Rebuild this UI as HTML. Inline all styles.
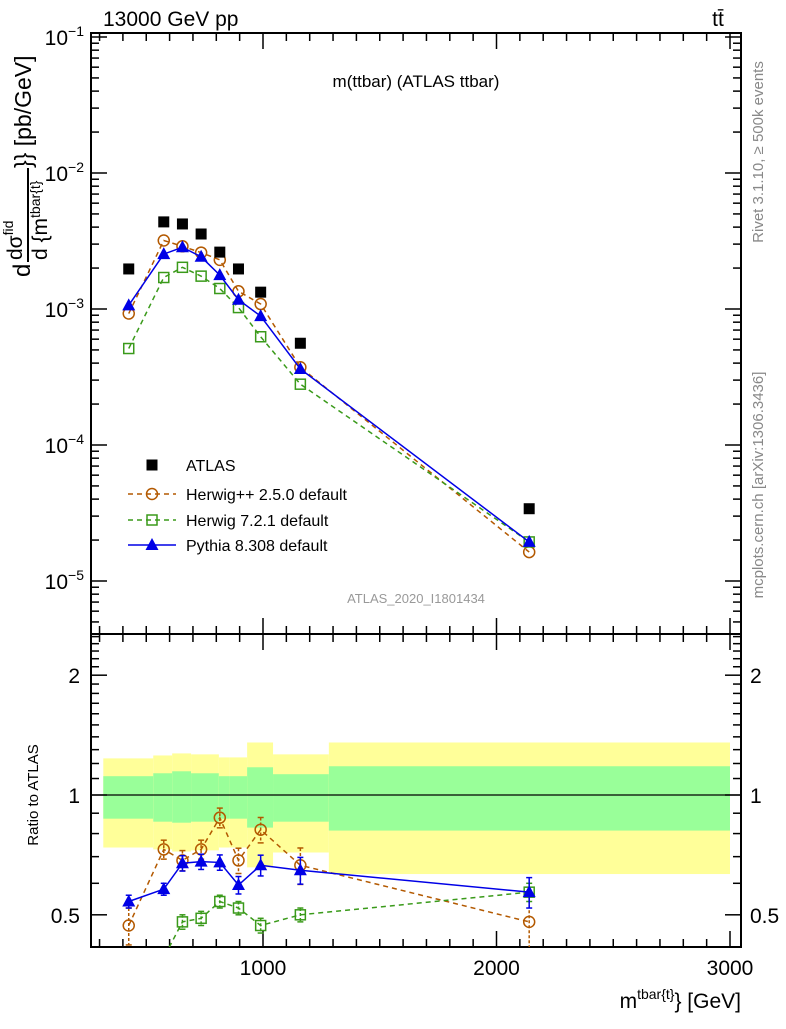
<!DOCTYPE html>
<html><head><meta charset="utf-8"><style>
body{margin:0;background:#fff;}
svg text{font-family:"Liberation Sans",sans-serif;}
</style></head><body>
<svg id="c" width="786" height="1024" xmlns="http://www.w3.org/2000/svg"></svg>
<script>
const xVals=[425,575,655,735,815,895,990,1160,2140];
const atlas=[1.97e-3,4.37e-3,4.22e-3,3.56e-3,2.62e-3,1.97e-3,1.33e-3,5.6e-4,3.4e-5];
const herwigpp=[0.47,0.73,0.685,0.73,0.877,0.685,0.818,0.666,0.48];
const herwig7=[0.26,0.39,0.48,0.49,0.54,0.52,0.47,0.50,0.57];
const pythia=[0.54,0.58,0.674,0.68,0.677,0.594,0.666,0.647,0.57];
const errHpp=[0.05,0.04,0.04,0.04,0.05,0.05,0.06,0.07,0.08];
const errH7=[0.03,0.02,0.02,0.02,0.02,0.02,0.02,0.02,0.03];
const errPy=[0.02,0.02,0.03,0.03,0.03,0.03,0.04,0.05,0.05];
const binEdges=[316,530,611,692,811,855,932,1043,1282,3000];
const yelHi=[1.236,1.257,1.272,1.265,1.243,1.243,1.355,1.265,1.355];
const yelLo=[0.738,0.730,0.721,0.726,0.738,0.738,0.658,0.717,0.633];
const grnHi=[1.115,1.134,1.147,1.134,1.115,1.115,1.174,1.128,1.181];
const grnLo=[0.872,0.857,0.852,0.857,0.872,0.872,0.828,0.857,0.814];
const xTicks=[1000,2000,3000];
const yMainTicks=[-1,-2,-3,-4,-5];
const yRatioTicks=[0.5,1,2];

const svg=document.getElementById('c');
const NS='http://www.w3.org/2000/svg';
const L=91,R=741,T=33,MB=634,RB=947;
const X=v=>29.5+v*0.2335;
const YM=v=>37+(-1-Math.log10(v))*136;
const YR=v=>795-Math.log10(v)*398;
function el(tag,attrs,parent){const e=document.createElementNS(NS,tag);for(const k in attrs)e.setAttribute(k,attrs[k]);(parent||svg).appendChild(e);return e;}
function txt(s,attrs,parent){const e=el('text',attrs,parent);e.textContent=s;return e;}

const defs=el('defs',{});
const cm=el('clipPath',{id:'cm'},defs);el('rect',{x:L,y:T,width:R-L,height:MB-T},cm);
const cr=el('clipPath',{id:'cr'},defs);el('rect',{x:L,y:MB,width:R-L,height:RB-MB},cr);

const bands=el('g',{'clip-path':'url(#cr)'});


for(let i=0;i<yelHi.length;i++){
  const x0=X(binEdges[i]),x1=X(binEdges[i+1]);
  const y=el('rect',{x:x0,y:YR(yelHi[i]),width:x1-x0,height:YR(yelLo[i])-YR(yelHi[i]),fill:'#ffff99'},bands);
  
  
  const g=el('rect',{x:x0,y:YR(grnHi[i]),width:x1-x0,height:YR(grnLo[i])-YR(grnHi[i]),fill:'#99ff99'},bands);
  
  
}
el('line',{x1:L,x2:R,y1:YR(1),y2:YR(1),stroke:'#000','stroke-width':1.2});

for(const [t,b,nm] of [[T,MB,'main-frame'],[MB,RB,'ratio-frame']]){
  const f=el('rect',{x:L,y:t,width:R-L,height:b-t,fill:'none',stroke:'#000','stroke-width':2});
  
  
}
for(const [t,b] of [[T,MB],[MB,RB]]){
  for(let v=300;v<=3000;v+=100){
    const x=X(v);if(x<L||x>R)continue;
    const len=(v%1000===0)?16:8;
    el('line',{x1:x,x2:x,y1:b,y2:b-len,stroke:'#000','stroke-width':1.5});
    el('line',{x1:x,x2:x,y1:t,y2:t+len,stroke:'#000','stroke-width':1.5});
  }
}
xTicks.forEach(v=>{
  const t=txt(String(v),{x:X(v),y:975,'font-size':21,'text-anchor':'middle'});
  
  
});
for(let d=-6;d<=-1;d++){
  for(let m=1;m<10;m++){
    const v=m*Math.pow(10,d);const y=YM(v);if(y<T||y>MB)continue;
    const len=m===1?16:8;
    el('line',{x1:L,x2:L+len,y1:y,y2:y,stroke:'#000','stroke-width':1.5});
    el('line',{x1:R,x2:R-len,y1:y,y2:y,stroke:'#000','stroke-width':1.5});
  }
}
yMainTicks.forEach(d=>{
  const t=el('text',{x:84,y:YM(Math.pow(10,d))+8,'font-size':21,'text-anchor':'end'});
  t.innerHTML='10<tspan dy="-9" font-size="14">'+(d<0?'\u2212':'')+Math.abs(d)+'</tspan>';
  
  
});
const rMinor=[0.5,0.6,0.7,0.8,0.9,1,1.1,1.2,1.3,1.4,1.5,1.6,1.7,1.8,1.9,2,2.1,2.2,2.3,2.4,2.5];
rMinor.forEach(v=>{
  const y=YR(v);if(y<MB||y>RB)return;
  const len=(v===0.5||v===1||v===2)?16:8;
  el('line',{x1:L,x2:L+len,y1:y,y2:y,stroke:'#000','stroke-width':1.5});
  el('line',{x1:R,x2:R-len,y1:y,y2:y,stroke:'#000','stroke-width':1.5});
});
yRatioTicks.forEach(v=>{
  const a=txt(String(v),{x:80,y:YR(v)+8,'font-size':21,'text-anchor':'end'});
  
  
  const b=txt(String(v),{x:750,y:YR(v)+8,'font-size':21,'text-anchor':'start'});
  
  
});

function marker(g,type,x,y,color){
  if(type==='sq') el('rect',{x:x-5.5,y:y-5.5,width:11,height:11,fill:'#000'},g);
  else if(type==='circ') el('circle',{cx:x,cy:y,r:5.5,fill:'none',stroke:color,'stroke-width':1.5},g);
  else if(type==='osq') el('rect',{x:x-5,y:y-5,width:10,height:10,fill:'none',stroke:color,'stroke-width':1.5},g);
  else if(type==='tri') el('polygon',{points:`${x},${y-7} ${x-6.5},${y+5} ${x+6.5},${y+5}`,fill:color},g);
}
const series=[
  {name:'herwigpp',vals:herwigpp,err:errHpp,color:'#b35900',dash:'5,4',type:'circ'},
  {name:'herwig7',vals:herwig7,err:errH7,color:'#3a9a1a',dash:'5,4',type:'osq'},
  {name:'pythia',vals:pythia,err:errPy,color:'#0000e6',dash:'',type:'tri'}
];
const gm=el('g',{'clip-path':'url(#cm)'});
series.forEach(s=>{
  const g=el('g',{},gm);
  
  
  const pts=xVals.map((x,i)=>X(x)+','+YM(s.vals[i]*atlas[i])).join(' ');
  el('polyline',{points:pts,fill:'none',stroke:s.color,'stroke-width':1.5,'stroke-dasharray':s.dash},g);
  xVals.forEach((x,i)=>marker(g,s.type,X(x),YM(s.vals[i]*atlas[i]),s.color));
});
const ga=el('g',{},gm);


xVals.forEach((x,i)=>marker(ga,'sq',X(x),YM(atlas[i])));

const gr=el('g',{'clip-path':'url(#cr)'});
series.forEach(s=>{
  const g=el('g',{},gr);
  
  
  const pts=xVals.map((x,i)=>X(x)+','+YR(s.vals[i])).join(' ');
  el('polyline',{points:pts,fill:'none',stroke:s.color,'stroke-width':1.5,'stroke-dasharray':s.dash},g);
  xVals.forEach((x,i)=>{
    const xx=X(x),y1=YR(s.vals[i]+s.err[i]),y2=YR(s.vals[i]-s.err[i]);
    el('line',{x1:xx,x2:xx,y1:y1,y2:y2,stroke:s.color,'stroke-width':1.5,'stroke-dasharray':s.dash?'3,2':''},g);
    el('line',{x1:xx-3,x2:xx+3,y1:y1,y2:y1,stroke:s.color,'stroke-width':1.5},g);
    el('line',{x1:xx-3,x2:xx+3,y1:y2,y2:y2,stroke:s.color,'stroke-width':1.5},g);
    marker(g,s.type,xx,YR(s.vals[i]),s.color);
  });
});

const lg=el('g',{});


const leg=[['sq','#000','','ATLAS',465],['circ','#b35900','5,4','Herwig++ 2.5.0 default',494],['osq','#3a9a1a','5,4','Herwig 7.2.1 default',520],['tri','#0000e6','','Pythia 8.308 default',545]];
leg.forEach(([t,c,d,s,y])=>{
  const e=el('g',{},lg);
  
  
  if(t!=='sq') el('line',{x1:128,x2:176,y1:y,y2:y,stroke:c,'stroke-width':1.5,'stroke-dasharray':d},e);
  marker(e,t,152,y,c);
  txt(s,{x:186,y:y+6,'font-size':16},e);
});

function T2(s,attrs,name){const t=txt(s,attrs);return t;}
T2('13000 GeV pp',{x:103,y:26,'font-size':21},'title-energy');
T2('tt\u0304',{x:718,y:26,'font-size':21,'text-anchor':'middle'},'title-process');
T2('m(ttbar) (ATLAS ttbar)',{x:416,y:87,'font-size':17,'text-anchor':'middle'},'plot-title');
T2('ATLAS_2020_I1801434',{x:416,y:603,'font-size':13,'text-anchor':'middle',fill:'#999'},'analysis-id');
T2('Rivet 3.1.10, \u2265 500k events',{x:0,y:0,'font-size':15,fill:'#888','text-anchor':'middle',transform:'translate(763,152) rotate(-90)'},'rivet-label');
T2('mcplots.cern.ch [arXiv:1306.3436]',{x:0,y:0,'font-size':15,fill:'#888','text-anchor':'middle',transform:'translate(763,485) rotate(-90)'},'mcplots-label');
T2('Ratio to ATLAS',{x:0,y:0,'font-size':15,'text-anchor':'middle',transform:'translate(38,795) rotate(-90)'},'ratio-y-axis-title');
const xl=el('text',{x:741,y:1008,'font-size':21,'text-anchor':'end'});
xl.innerHTML='m<tspan dy="-9" font-size="14">tbar{t}</tspan><tspan dy="9">} [GeV]</tspan>';


const yg=el('g',{transform:'translate(0,280) rotate(-90)'});


txt('d',{x:3,y:30,'font-size':24},yg);
const num=el('text',{x:20,y:22,'font-size':21},yg);
num.innerHTML='dσ<tspan dy="-9" font-size="14">fid</tspan>';
el('line',{x1:18,x2:112,y1:28,y2:28,stroke:'#000','stroke-width':2},yg);
const den=el('text',{x:20,y:47,'font-size':21},yg);
den.innerHTML='d {m<tspan dy="-7" font-size="14">tbar{t}</tspan>';
txt('}} [pb/GeV]',{x:112,y:31,'font-size':23},yg);
</script>
</body></html>
